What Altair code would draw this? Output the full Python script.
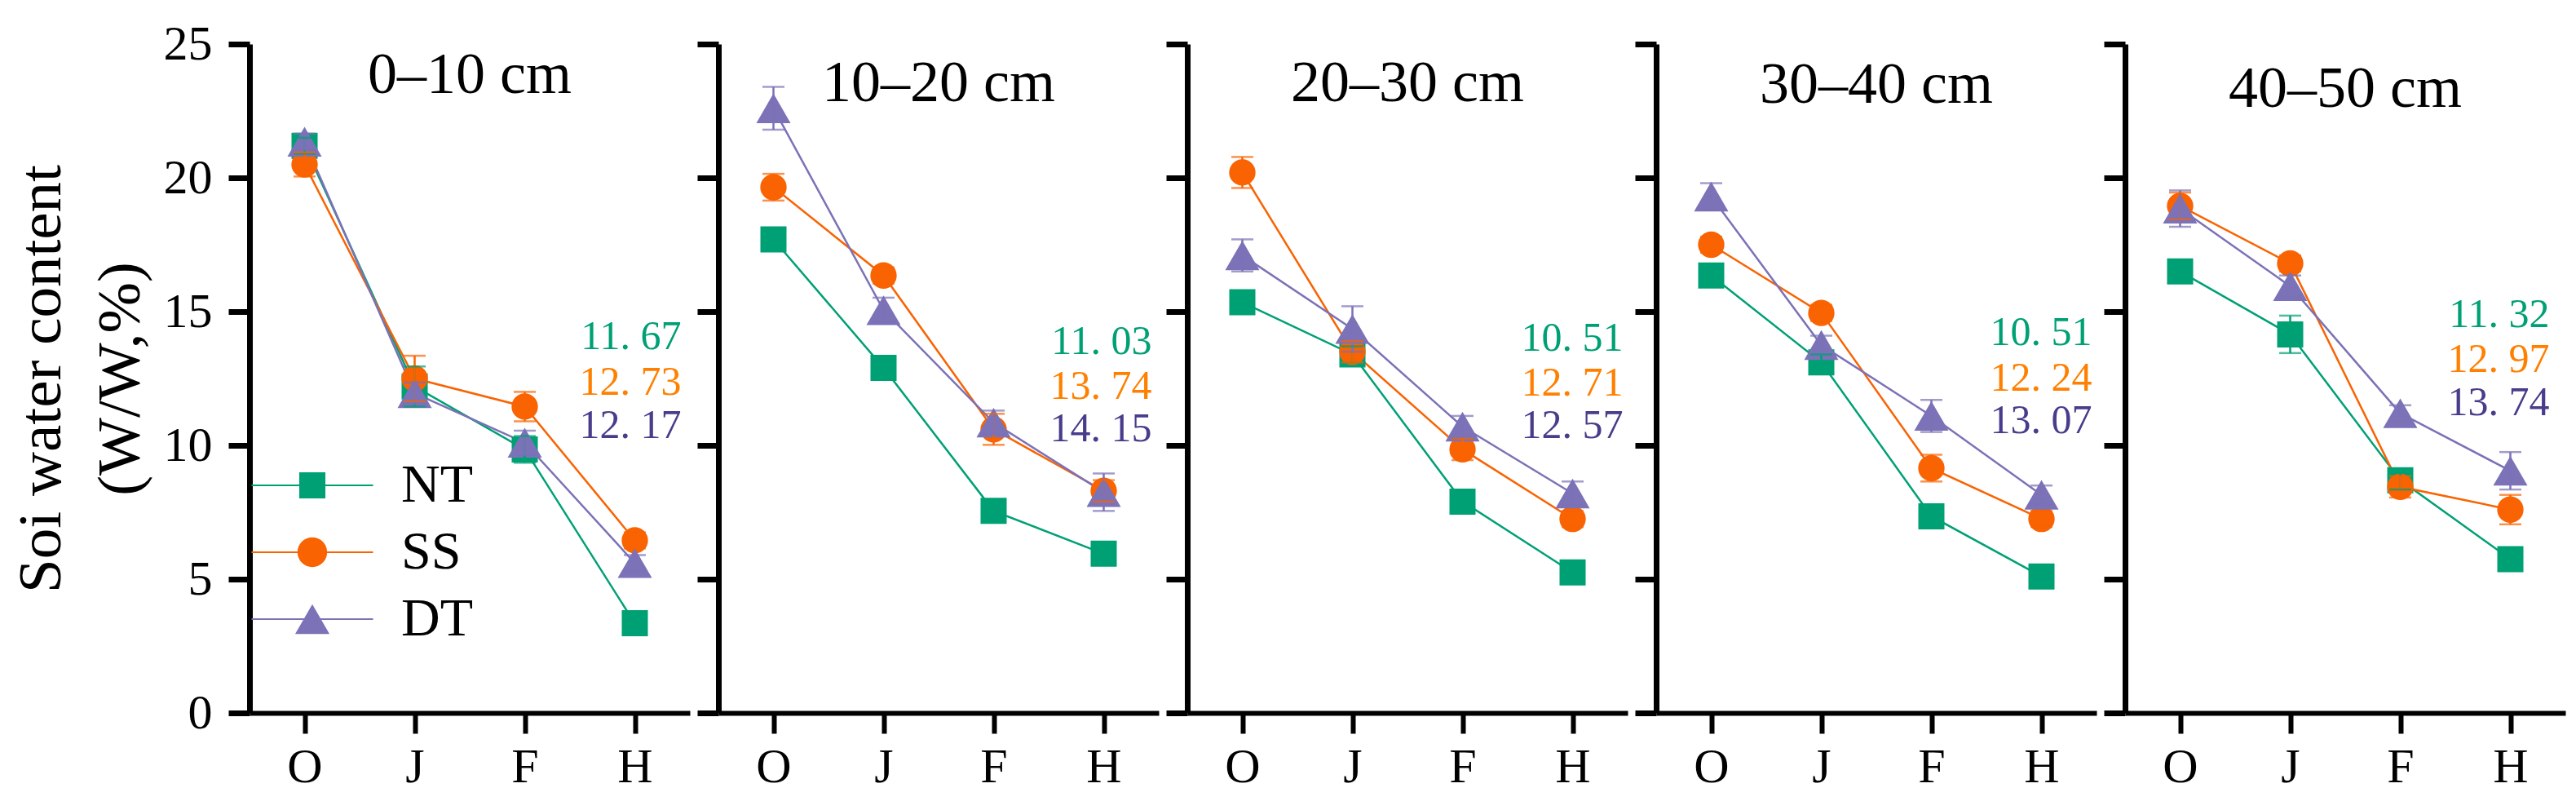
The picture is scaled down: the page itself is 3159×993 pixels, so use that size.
import altair as alt
import pandas as pd

# ---------------- data ----------------
months = ["O", "J", "F", "H"]
depths = ["0–10 cm", "10–20 cm", "20–30 cm", "30–40 cm", "40–50 cm"]
treatments = ["NT", "SS", "DT"]

nt_mean = [
    [21.2, 12.2, 9.85, 3.35],
    [17.7, 12.9, 7.55, 5.95],
    [15.35, 13.4, 7.9, 5.25],
    [16.35, 13.1, 7.35, 5.1],
    [16.5, 14.15, 8.7, 5.75],
]
ss_mean = [
    [20.5, 12.5, 11.45, 6.45],
    [19.65, 16.35, 10.6, 8.3],
    [20.2, 13.5, 9.85, 7.25],
    [17.5, 14.95, 9.15, 7.25],
    [18.95, 16.8, 8.45, 7.6],
]
dt_mean = [
    [21.35, 11.95, 10.1, 5.6],
    [22.6, 15.05, 10.85, 8.25],
    [17.1, 14.35, 10.7, 8.2],
    [19.3, 13.75, 11.1, 8.15],
    [18.85, 15.95, 11.2, 9.05],
]
nt_err = [
    [0.3, 0.75, 0.5, 0.2],
    [0.2, 0.2, 0.2, 0.2],
    [0.2, 0.3, 0.3, 0.2],
    [0.2, 0.3, 0.2, 0.2],
    [0.3, 0.7, 0.35, 0.2],
]
ss_err = [
    [0.45, 0.85, 0.55, 0.3],
    [0.5, 0.3, 0.58, 0.4],
    [0.58, 0.4, 0.4, 0.3],
    [0.3, 0.3, 0.5, 0.3],
    [0.5, 0.3, 0.4, 0.55],
]
dt_err = [
    [0.3, 0.4, 0.45, 0.3],
    [0.8, 0.47, 0.45, 0.7],
    [0.6, 0.85, 0.4, 0.45],
    [0.5, 0.35, 0.6, 0.35],
    [0.68, 0.4, 0.3, 0.7],
]
nt_avg = ["11. 67", "11. 03", "10. 51", "10. 51", "11. 32"]
ss_avg = ["12. 73", "13. 74", "12. 71", "12. 24", "12. 97"]
dt_avg = ["12. 17", "14. 15", "12. 57", "13. 07", "13. 74"]

# annotation placement (y in data units, x offset from the "H" column)
label_y = [
    [14.05, 12.35, 10.74],
    [13.86, 12.2, 10.6],
    [14.0, 12.33, 10.72],
    [14.2, 12.5, 10.9],
    [14.87, 13.2, 11.6],
]
label_dx = [57, 59, 62, 62, 48]
title_offset = [-162, -145, -145, -147, -152]

# ---------------- styles ----------------
FONT = "Liberation Serif"
colors = ["#00A075", "#F96302", "#7B72B7"]
ann_colors = ["#00A075", "#FF8000", "#483D8B"]
shapes = ["square", "circle", "triangle-up"]
sizes = [1024, 1046, 1764]

line_seg = "M-4.14,-0.06H4.14V0.06H-4.14Z "
legend_paths = [
    line_seg + "M-0.89,-0.89H0.89V0.89H-0.89Z",
    line_seg + "M-1.01,0A1.01,1.01,0,1,1,1.01,0A1.01,1.01,0,1,1,-1.01,0Z",
    line_seg + "M0,-1.02L1.17,1.02L-1.17,1.02Z",
]

means = {"NT": nt_mean, "SS": ss_mean, "DT": dt_mean}
errs = {"NT": nt_err, "SS": ss_err, "DT": dt_err}
avgs = {"NT": nt_avg, "SS": ss_avg, "DT": dt_avg}

rows = []
ann_rows = []
for di, dep in enumerate(depths):
    for ti, tr in enumerate(treatments):
        for mi, mo in enumerate(months):
            m = means[tr][di][mi]
            e = errs[tr][di][mi]
            rows.append(dict(depth=dep, treatment=tr, month=mo, mi=mi, mean=m,
                             lo=m - e, hi=m + e, shp=shapes[ti], sz=sizes[ti],
                             col=colors[ti]))
        ann_rows.append(dict(depth=dep, treatment=tr, month="H", ly=label_y[di][ti],
                             txt=avgs[tr][di], acol=ann_colors[ti]))
df = pd.DataFrame(rows)
adf = pd.DataFrame(ann_rows)

W, H = 540, 820
color_scale = alt.Scale(domain=treatments, range=colors)
x_scale = alt.Scale(type="point", domain=months, padding=0.5)
y_scale = alt.Scale(domain=[0, 25], nice=False, zero=True)

x_axis = alt.Axis(title=None, labelAngle=0, labelFont=FONT, labelFontSize=60,
                  labelColor="black", labelPadding=12, domainColor="black",
                  domainWidth=6, tickColor="black", tickWidth=6, tickSize=25,
                  grid=False)


def y_axis(first):
    if first:
        return alt.Axis(title=["Soi water content", "(W/W,%)"], values=[0, 5, 10, 15, 20, 25],
                        labelFont=FONT, labelFontSize=60, labelColor="black",
                        labelPadding=20, domainColor="black", domainWidth=7,
                        tickColor="black", tickWidth=7, tickSize=26, grid=False,
                        titleFont=FONT, titleFontSize=75, titleFontWeight="normal",
                        titleColor="black", titleLineHeight=97, titlePadding=14)
    return alt.Axis(title=None, values=[0, 5, 10, 15, 20, 25], labels=False,
                    domainColor="black", domainWidth=7, tickColor="black",
                    tickWidth=7, tickSize=26, grid=False)


def panel(i):
    d = df[df.depth == depths[i]]
    a = adf[adf.depth == depths[i]]
    ax = y_axis(i == 0)
    x = alt.X("month:N", sort=months, scale=x_scale, axis=x_axis)

    def y(field):
        return alt.Y(f"{field}:Q", scale=y_scale, axis=ax)

    color = alt.Color("col:N", scale=None)
    base = alt.Chart(d)
    lines = base.mark_line(strokeWidth=2.5).encode(
        x=x, y=y("mean"), color=color, detail="treatment:N", order=alt.Order("mi:Q"))
    points = base.mark_point(filled=True, opacity=1, strokeWidth=0).encode(
        x=x, y=y("mean"), color=color,
        shape=alt.Shape("shp:N", scale=None), size=alt.Size("sz:Q", scale=None))
    rule = base.mark_rule(strokeWidth=2.5).encode(
        x=x, y=y("lo"), y2="hi:Q", color=color)
    cap_lo = base.mark_tick(thickness=2.5, size=27).encode(x=x, y=y("lo"), color=color)
    cap_hi = base.mark_tick(thickness=2.5, size=27).encode(x=x, y=y("hi"), color=color)
    ann = alt.Chart(a).mark_text(font=FONT, fontSize=50, align="right",
                                 baseline="middle", dx=label_dx[i]).encode(
        x=x, y=y("ly"), text="txt:N", color=alt.Color("acol:N", scale=None))
    layers = [lines, points, rule, cap_lo, cap_hi, ann]
    if i == 0:
        leg = dict(title=None, orient="none", legendX=44, legendY=508,
                   labelFont=FONT, labelFontSize=66, labelColor="black",
                   labelOffset=76, symbolSize=1296, symbolStrokeWidth=0,
                   rowPadding=16, padding=0)
        ldf = pd.DataFrame({"treatment": treatments})
        legend_layer = alt.Chart(ldf).mark_point(filled=True, opacity=0).encode(
            x=x, y=alt.Y("mean:Q", scale=y_scale, axis=ax),
            color=alt.Color("treatment:N", scale=color_scale, legend=alt.Legend(**leg)),
            shape=alt.Shape("treatment:N",
                            scale=alt.Scale(domain=treatments, range=legend_paths),
                            legend=alt.Legend(**leg)),
        ).transform_calculate(month="'O'", mean="20")
        layers.append(legend_layer)
    return alt.layer(*layers).properties(
        width=W, height=H,
        title=alt.TitleParams(depths[i], font=FONT, fontSize=72, fontWeight="normal",
                              color="black", anchor="middle", offset=title_offset[i],
                              baseline="alphabetic"))


chart = alt.hconcat(*[panel(i) for i in range(5)], spacing=35, bounds="flush").properties(
    padding={"left": 5, "top": 16, "right": 5, "bottom": 0},
    background="white",
).configure_view(stroke=None)

chart.save("out.html", embed_options={"renderer": "svg", "actions": False})
